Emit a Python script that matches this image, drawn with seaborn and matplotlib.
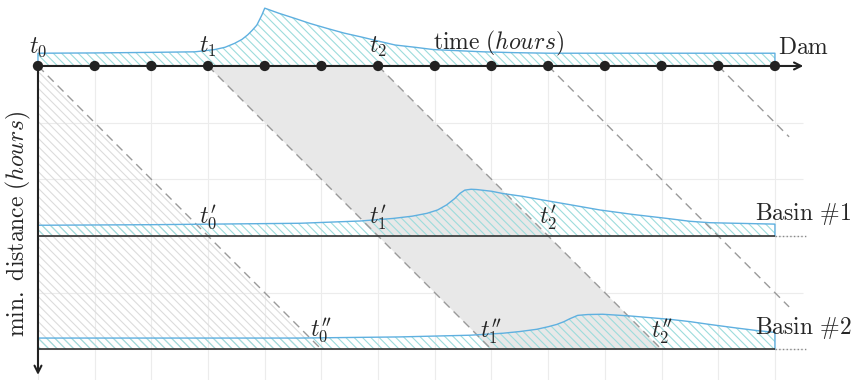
import matplotlib
matplotlib.use("Agg")
import matplotlib.pyplot as plt
import seaborn as sns
import numpy as np

# time steps marked on the dam axis (hours)
time_steps = list(range(14))

# distance (hours) of each gauge below the dam
gauge_names = ["Dam", "Basin #1", "Basin #2"]
gauge_dist = [0, 3, 5]

# hydrographs: time (hours) and height above baseline
dam_t = [0, 1, 2, 2.77, 3.12, 3.3, 3.47, 3.6, 3.70, 3.78, 3.86, 3.95, 4.0,
         4.25, 4.53, 4.8, 5.11, 5.4, 5.71, 6.0, 6.30, 6.65, 6.97, 7.4, 7.85, 8.4, 9.03, 13]
dam_q = [0.225, 0.23, 0.24, 0.25, 0.29, 0.33, 0.40, 0.47, 0.55, 0.63, 0.72, 0.90, 1.02,
         0.93, 0.84, 0.75, 0.66, 0.58, 0.51, 0.44, 0.37, 0.33, 0.29, 0.27, 0.25, 0.235, 0.225, 0.225]

b1_t = [0, 2, 4.62, 5.68, 6.26, 6.6, 6.86, 7.05, 7.21, 7.35, 7.44, 7.53, 7.64, 7.74,
        8.0, 8.2, 8.55, 8.91, 9.4, 9.91, 10.5, 11.1, 11.5, 11.85, 13]
b1_q = [0.19, 0.2, 0.225, 0.265, 0.31, 0.35, 0.40, 0.46, 0.55, 0.66, 0.75, 0.81, 0.825, 0.82,
        0.79, 0.75, 0.70, 0.635, 0.55, 0.46, 0.38, 0.31, 0.26, 0.235, 0.21]

b2_t = [0, 4.62, 6.38, 7.62, 8.2, 8.5, 8.8, 9.0, 9.15, 9.28, 9.38, 9.52, 9.7, 9.96,
        10.44, 11.15, 11.5, 11.85, 12.3, 12.7, 13]
b2_q = [0.2, 0.2, 0.22, 0.25, 0.285, 0.315, 0.355, 0.40, 0.44, 0.49, 0.54, 0.60, 0.615, 0.62,
        0.59, 0.53, 0.49, 0.44, 0.38, 0.33, 0.30]

# travel-time lines: start time on the dam axis and distance where they stop
travel_start = [0, 3, 6, 9, 12]
travel_stop = [5, 5, 5, 4.25, 1.25]

# labels
top_labels = [r"$t_0$", r"$t_1$", r"$t_2$"]
b1_labels = [r"$t^{\prime}_{0}$", r"$t^{\prime}_{1}$", r"$t^{\prime}_{2}$"]
b2_labels = [r"$t^{\prime\prime}_{0}$", r"$t^{\prime\prime}_{1}$", r"$t^{\prime\prime}_{2}$"]

LINE = "#5fb0e0"
HATCH = "#9ddcdc"
DARK = "#222222"
HATCH_PAT = "\\\\\\\\"

sns.set_style("white")
plt.rcParams["mathtext.fontset"] = "cm"
plt.rcParams["hatch.linewidth"] = 0.8

fig = plt.figure(figsize=(8.56, 3.8), dpi=100)
ax = fig.add_axes([0, 0, 1, 1])
ax.set_xlim(-0.67, 14.43)
ax.set_ylim(5.54, -1.164)
ax.axis("off")

# light grid
ax.vlines(time_steps, 0, 5.6, color="#ececec", lw=0.8, zorder=0)
ax.hlines([1, 2, 3, 4, 5], 0, 13.5, color="#ececec", lw=0.8, zorder=0)

# hatched triangle left of the first travel line
ax.fill([0, travel_stop[0], 0], [0, travel_stop[0], travel_stop[0]],
        facecolor="none", edgecolor="#dcdcdc", hatch=HATCH_PAT, lw=0, zorder=1)

# grey band between t1 and t2
s1, s2 = travel_start[1], travel_start[2]
d = travel_stop[1]
ax.fill([s1, s2, s2 + d, s1 + d], [0, 0, d, d], color="#e8e8e8", lw=0, zorder=1)

# travel-time lines
for s, e in zip(travel_start, travel_stop):
    ax.plot([s, s + e], [0, e], color="#9a9a9a", lw=1.0, ls=(0, (6, 4)), zorder=4)

# hydrographs
for base, t, q in zip(gauge_dist, [dam_t, b1_t, b2_t], [dam_q, b1_q, b2_q]):
    t = np.array(t)
    y = base - np.array(q)
    ax.fill_between(t, base, y, facecolor="none", edgecolor=HATCH,
                    hatch=HATCH_PAT, lw=0, zorder=3)
    xs = np.r_[t[0], t, t[-1]]
    ys = np.r_[base, y, base]
    sns.lineplot(x=xs, y=ys, sort=False, estimator=None, color=LINE, lw=1.0,
                 ax=ax, zorder=5)

# basin baselines and dotted continuation
ax.hlines(gauge_dist[1:], 0, 13, color="#333333", lw=1.2, zorder=6)
ax.hlines(gauge_dist[1:], 13, 13.55, color="#888888", lw=1.0, ls=":", zorder=6)

# main axes with arrows
ax.annotate("", xy=(13.5, 0), xytext=(0, 0), zorder=7,
            arrowprops=dict(arrowstyle="->,head_length=0.5,head_width=0.25",
                            lw=1.5, color=DARK, shrinkA=0, shrinkB=0))
ax.annotate("", xy=(0, 5.45), xytext=(0, 0), zorder=7,
            arrowprops=dict(arrowstyle="->,head_length=0.5,head_width=0.25",
                            lw=1.5, color=DARK, shrinkA=0, shrinkB=0))

sns.scatterplot(x=time_steps, y=[0] * len(time_steps), s=55, color=DARK,
                edgecolor="none", ax=ax, zorder=8)

fs = 17
for i, lab in enumerate(top_labels):
    ax.text(travel_start[i], -0.33, lab, fontsize=fs, ha="center", va="center", zorder=9)
for i, lab in enumerate(b1_labels):
    ax.text(travel_start[i] + gauge_dist[1], gauge_dist[1] - 0.32, lab,
            fontsize=fs, ha="center", va="center", zorder=9)
for i, lab in enumerate(b2_labels):
    ax.text(travel_start[i] + gauge_dist[2], gauge_dist[2] - 0.32, lab,
            fontsize=fs, ha="center", va="center", zorder=9)

ax.text(8.13, -0.39, r"$\mathrm{time}\ (hours)$", fontsize=fs, ha="center", va="center", zorder=9)
ax.text(13.05, -0.33, r"$\mathrm{Dam}$", fontsize=fs, ha="left", va="center", zorder=9)
ax.text(12.65, 2.61, r"$\mathrm{Basin\ \#1}$", fontsize=fs, ha="left", va="center", zorder=9)
ax.text(12.65, 4.62, r"$\mathrm{Basin\ \#2}$", fontsize=fs, ha="left", va="center", zorder=9)
ax.text(-0.35, 2.79, r"$\mathrm{min.\ distance}\ (hours)$", fontsize=fs,
        rotation=90, ha="center", va="center", zorder=9)

fig.savefig("out.png", dpi=100)
